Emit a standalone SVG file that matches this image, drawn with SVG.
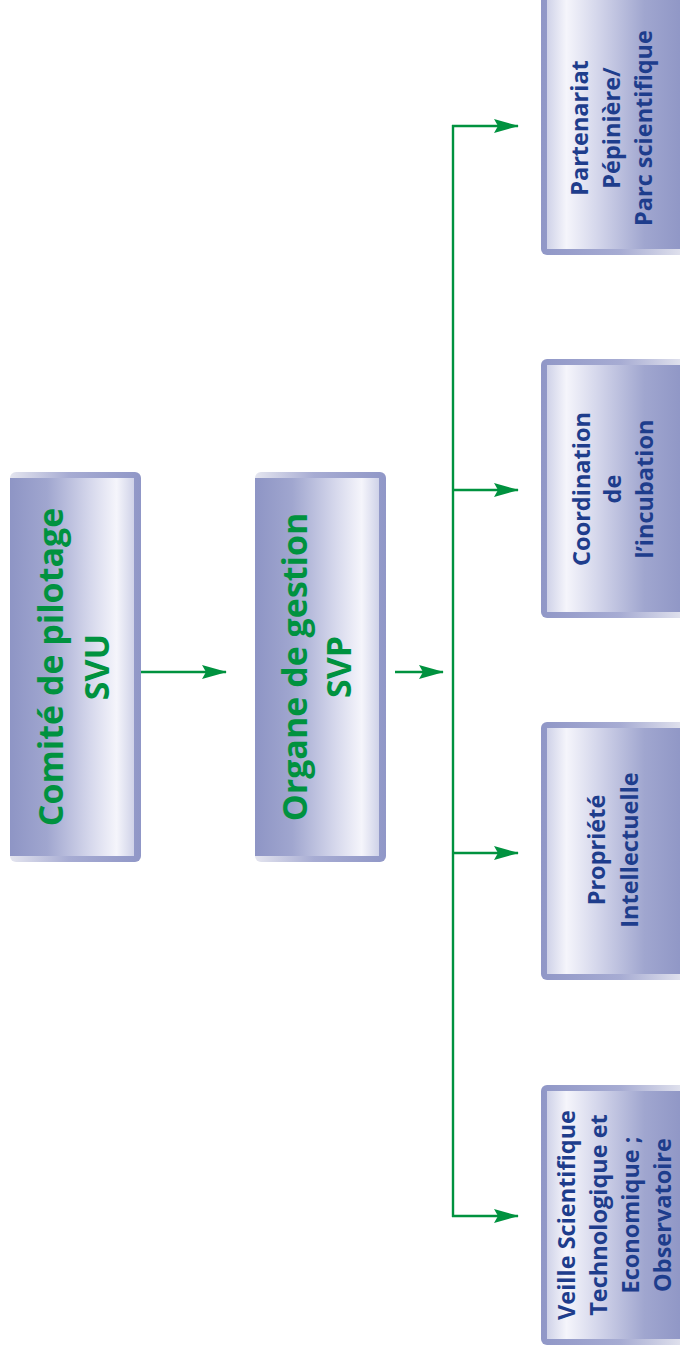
<svg xmlns="http://www.w3.org/2000/svg" width="680" height="1351" viewBox="0 0 680 1351">
<defs>
<linearGradient id="frameL" x1="0" y1="0" x2="1" y2="0">
<stop offset="0" stop-color="#e4e5ef"/>
<stop offset="0.45" stop-color="#a7acd3"/>
<stop offset="1" stop-color="#9097c7"/>
</linearGradient>
<linearGradient id="fillL" x1="0" y1="0" x2="1" y2="0">
<stop offset="0" stop-color="#8e95c5"/>
<stop offset="0.3" stop-color="#a0a6cf"/>
<stop offset="0.65" stop-color="#d6d8ec"/>
<stop offset="0.86" stop-color="#f5f5fb"/>
<stop offset="1" stop-color="#cfd2e8"/>
</linearGradient>
<linearGradient id="frameR" x1="1" y1="0" x2="0" y2="0">
<stop offset="0" stop-color="#e4e5ef"/>
<stop offset="0.45" stop-color="#a7acd3"/>
<stop offset="1" stop-color="#9097c7"/>
</linearGradient>
<linearGradient id="fillR" x1="1" y1="0" x2="0" y2="0">
<stop offset="0" stop-color="#8e95c5"/>
<stop offset="0.3" stop-color="#a0a6cf"/>
<stop offset="0.65" stop-color="#d6d8ec"/>
<stop offset="0.86" stop-color="#f5f5fb"/>
<stop offset="1" stop-color="#cfd2e8"/>
</linearGradient>
<marker id="arr" markerUnits="userSpaceOnUse" markerWidth="26" markerHeight="16" viewBox="0 0 26 16" refX="24" refY="8" orient="auto">
<path d="M0,1 L25,8 L0,15 L4,8 Z" fill="#00923f"/>
</marker>
</defs>
<style>
.conn line{stroke:#00923f;stroke-width:2.4;fill:none}
.t{font-family:"Open Sans","DejaVu Sans",sans-serif;font-weight:bold;text-anchor:middle}
.big{font-size:34px;fill:#00923f}
.sm{font-size:23.5px;fill:#1e3d8c}
</style>
<g id="comite">
<rect x="10" y="472" width="131" height="390" rx="6" fill="url(#frameL)"/>
<rect x="10" y="478" width="124" height="378" fill="url(#fillL)"/>
<text class="t big" transform="translate(63,667) rotate(-90)">Comité de pilotage</text>
<text class="t big" transform="translate(109,667) rotate(-90)">SVU</text>
</g>
<g id="organe">
<rect x="255" y="472" width="131" height="390" rx="6" fill="url(#frameL)"/>
<rect x="255" y="478" width="124" height="378" fill="url(#fillL)"/>
<text class="t big" transform="translate(307,667) rotate(-90)">Organe de gestion</text>
<text class="t big" transform="translate(351,667) rotate(-90)">SVP</text>
</g>
<g id="partenariat">
<rect x="541" y="-6" width="145" height="261" rx="6" fill="url(#frameR)"/>
<rect x="547" y="-6" width="139" height="255" fill="url(#fillR)"/>
<text class="t sm" transform="translate(588,128) rotate(-90)">Partenariat</text>
<text class="t sm" transform="translate(620,128) rotate(-90)">Pépinière/</text>
<text class="t sm" transform="translate(652,128) rotate(-90)">Parc scientifique</text>
</g>
<g id="coordination">
<rect x="541" y="359" width="145" height="259" rx="6" fill="url(#frameR)"/>
<rect x="547" y="365" width="139" height="247" fill="url(#fillR)"/>
<text class="t sm" transform="translate(590,489) rotate(-90)">Coordination</text>
<text class="t sm" transform="translate(621,489) rotate(-90)">de</text>
<text class="t sm" transform="translate(653,489) rotate(-90)">l’incubation</text>
</g>
<g id="propriete">
<rect x="541" y="722" width="145" height="258" rx="6" fill="url(#frameR)"/>
<rect x="547" y="728" width="139" height="246" fill="url(#fillR)"/>
<text class="t sm" transform="translate(605,850) rotate(-90)">Propriété</text>
<text class="t sm" transform="translate(638,850) rotate(-90)">Intellectuelle</text>
</g>
<g id="veille">
<rect x="541" y="1085" width="145" height="260" rx="6" fill="url(#frameR)"/>
<rect x="547" y="1091" width="139" height="248" fill="url(#fillR)"/>
<text class="t sm" transform="translate(575,1215) rotate(-90)">Veille Scientifique</text>
<text class="t sm" transform="translate(607,1215) rotate(-90)">Technologique et</text>
<text class="t sm" transform="translate(639,1215) rotate(-90)">Economique ;</text>
<text class="t sm" transform="translate(671,1215) rotate(-90)">Observatoire</text>
</g>
<g id="connectors" class="conn">
<line x1="141" y1="672" x2="226" y2="672" marker-end="url(#arr)"/>
<line x1="395" y1="672" x2="443" y2="672" marker-end="url(#arr)"/>
<line x1="453" y1="125" x2="453" y2="1217"/>
<line x1="452" y1="126" x2="518" y2="126" marker-end="url(#arr)"/>
<line x1="452" y1="490" x2="518" y2="490" marker-end="url(#arr)"/>
<line x1="452" y1="853" x2="518" y2="853" marker-end="url(#arr)"/>
<line x1="452" y1="1216" x2="518" y2="1216" marker-end="url(#arr)"/>
</g>
</svg>
